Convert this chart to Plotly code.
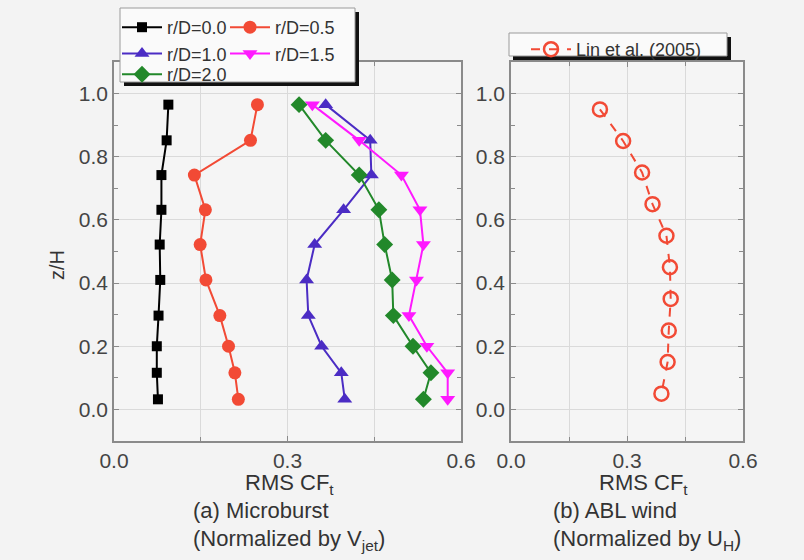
import plotly.graph_objects as go

# ---------------- data ----------------
z_mb = [0.965, 0.852, 0.742, 0.632, 0.522, 0.410, 0.297, 0.200, 0.116, 0.032]
rd00 = [0.094, 0.091, 0.082, 0.082, 0.079, 0.080, 0.077, 0.074, 0.074, 0.076]
rd05 = [0.248, 0.236, 0.139, 0.158, 0.149, 0.159, 0.183, 0.198, 0.209, 0.215]
rd10 = [0.366, 0.443, 0.445, 0.397, 0.347, 0.333, 0.336, 0.359, 0.393, 0.399]
rd15 = [0.343, 0.424, 0.497, 0.529, 0.535, 0.523, 0.510, 0.541, 0.577, 0.577]
rd20 = [0.320, 0.366, 0.424, 0.458, 0.468, 0.481, 0.483, 0.517, 0.548, 0.535]

z_abl = [0.95, 0.85, 0.75, 0.65, 0.55, 0.45, 0.35, 0.25, 0.15, 0.05]
lin2005 = [0.230, 0.290, 0.339, 0.366, 0.402, 0.411, 0.413, 0.408, 0.405, 0.389]

names = ["r/D=0.0", "r/D=0.5", "r/D=1.0", "r/D=1.5", "r/D=2.0"]
xticks = [0.0, 0.3, 0.6]
yticks = [0.0, 0.2, 0.4, 0.6, 0.8, 1.0]

# ---------------- layout helpers ----------------
W, H = 804, 560
L, R, T, B = 114, 743, 62, 441


def px(x):
    return (x - L) / (R - L)


def py(y):
    return (B - y) / (B - T)


FONT = "Liberation Sans, Arial, sans-serif"
TXT = "#333333"
GRID = "#dadada"
FRAME = "#8a8a8a"
BG = "#f3f3f3"

fig = go.Figure()

# legend layout: column 1 rows 1-2 -> "legend", column 2 -> "legend2", row 3 -> "legend4"
styles = [
    ("#000000", "square", 10, "legend"),
    ("#f24a35", "circle", 13, "legend2"),
    ("#4b2cc4", "triangle-up", 13, "legend"),
    ("#ff19ff", "triangle-down", 13, "legend2"),
    ("#22882a", "diamond", 13, "legend4"),
]
for name, xs, (col, sym, sz, lg) in zip(names, [rd00, rd05, rd10, rd15, rd20], styles):
    fig.add_trace(go.Scatter(
        x=xs, y=z_mb, name=name, mode="lines+markers",
        line=dict(color=col, width=2),
        marker=dict(symbol=sym, size=sz, color=col),
        xaxis="x", yaxis="y", legend=lg,
    ))

fig.add_trace(go.Scatter(
    x=lin2005, y=z_abl, name="Lin et al. (2005)", mode="lines+markers",
    line=dict(color="#f24a35", width=2, dash="dash"),
    marker=dict(symbol="circle-open", size=14, color="#f24a35", line=dict(width=2.5)),
    xaxis="x2", yaxis="y2", legend="legend3",
))

d1 = (461 - L) / (R - L)
d2 = (511 - L) / (R - L)

xax = dict(
    range=[0, 0.6], tickvals=xticks, tickformat=".1f",
    showline=True, linecolor=FRAME, linewidth=1.5, mirror="ticks",
    ticks="inside", ticklen=5, tickcolor=FRAME,
    showgrid=True, gridcolor=GRID, gridwidth=1, zeroline=False,
    minor=dict(dtick=0.15, tick0=0, showgrid=True, gridcolor=GRID,
               ticks="inside", ticklen=4, tickcolor=FRAME),
    tickfont=dict(family=FONT, size=21, color="#444"),
)
yax = dict(
    range=[-0.1, 1.1], tickvals=yticks, tickformat=".1f",
    showline=True, linecolor=FRAME, linewidth=1.5, mirror="ticks",
    ticks="inside", ticklen=5, tickcolor=FRAME,
    showgrid=True, gridcolor=GRID, gridwidth=1, zeroline=False,
    minor=dict(dtick=0.1, tick0=0, showgrid=False,
               ticks="inside", ticklen=4, tickcolor=FRAME),
    tickfont=dict(family=FONT, size=21, color="#444"),
)

leg_common = dict(
    orientation="v", xanchor="left", yanchor="top",
    bgcolor="rgba(0,0,0,0)", borderwidth=0,
    font=dict(family=FONT, size=18, color=TXT),
    itemwidth=40, tracegroupgap=0,
)

fig.update_layout(
    width=W, height=H,
    margin=dict(l=L, r=W - R, t=T, b=H - B, autoexpand=False),
    paper_bgcolor=BG, plot_bgcolor="#f5f5f5",
    font=dict(family=FONT, color=TXT),
    xaxis=dict(domain=[0, d1], anchor="y", **xax),
    yaxis=dict(domain=[0, 1], anchor="x", **yax),
    xaxis2=dict(domain=[d2, 1], anchor="y2", **xax),
    yaxis2=dict(domain=[0, 1], anchor="x2", **yax),
    legend=dict(x=px(117), y=py(9), **leg_common),
    legend2=dict(x=px(225), y=py(9), **leg_common),
    legend4=dict(x=px(117), y=py(56), **leg_common),
    legend3=dict(x=px(526), y=py(31), **leg_common),
    showlegend=True,
)

shapes = []
for (x0, y0, x1, y1) in [(120, 8, 355, 82), (509, 33, 727, 56)]:
    shapes.append(dict(type="rect", xref="paper", yref="paper", layer="above",
                       x0=px(x0 + 4), x1=px(x1 + 4), y0=py(y1 + 4), y1=py(y0 + 4),
                       fillcolor="#111111", line=dict(width=0)))
    shapes.append(dict(type="rect", xref="paper", yref="paper", layer="above",
                       x0=px(x0), x1=px(x1), y0=py(y1), y1=py(y0),
                       fillcolor="#fafafa", line=dict(color="#9a9a9a", width=1)))
fig.update_layout(shapes=shapes)

ann = []


def add_text(text, x, y, xanchor="center", angle=0, size=22):
    ann.append(dict(text=text, x=px(x), y=py(y), xref="paper", yref="paper",
                    xanchor=xanchor, yanchor="middle", showarrow=False,
                    textangle=angle, font=dict(family=FONT, size=size, color=TXT)))


add_text("z/H", 57, 265, angle=-90, size=20)
add_text("RMS CF<sub>t</sub>", 289, 484)
add_text("RMS CF<sub>t</sub>", 643, 484)
add_text("(a) Microburst", 191, 510, xanchor="left")
add_text("(Normalized by V<sub>jet</sub>)", 191, 540, xanchor="left")
add_text("(b) ABL wind", 551, 510, xanchor="left")
add_text("(Normalized by U<sub>H</sub>)", 551, 540, xanchor="left")
fig.update_layout(annotations=ann)

fig.write_html(
    "out.html",
    config={"displayModeBar": False},
    post_script="document.body.style.margin='0';document.body.style.background='%s';" % BG,
)
